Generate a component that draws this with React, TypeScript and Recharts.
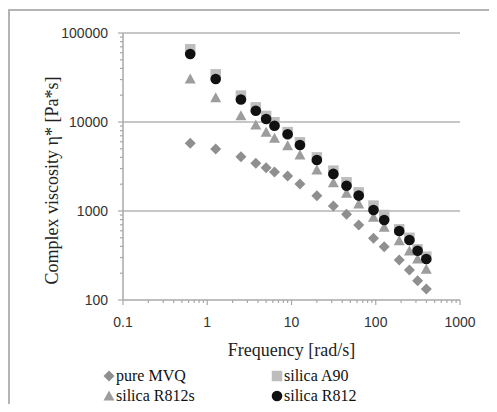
import React from 'react';
import {
  ScatterChart,
  Scatter,
  XAxis,
  YAxis,
  ReferenceLine,
  Legend,
} from 'recharts';

// angular frequency [rad/s]
const FREQ = [0.628, 1.26, 2.51, 3.77, 5.0, 6.28, 9.0, 12.6, 20, 31.4, 45, 62.8, 94, 126, 190, 251, 314, 398];

// complex viscosity [Pa*s]
const PURE_MVQ = [5770, 4970, 4075, 3435, 3065, 2740, 2470, 2010, 1485, 1140, 918, 697, 493, 397, 281, 217, 165, 133];
const SILICA_A90 = [65600, 34300, 19800, 14600, 11700, 9930, 7700, 5910, 4000, 2840, 2100, 1620, 1150, 902, 622, 500, 371, 307];
const SILICA_R812S = [30400, 18700, 11770, 9250, 7660, 6560, 5420, 4260, 2890, 2080, 1580, 1200, 849, 656, 464, 356, 289, 221];
const SILICA_R812 = [58100, 30400, 17900, 13400, 10800, 9090, 7280, 5520, 3740, 2610, 1920, 1490, 1025, 793, 596, 472, 358, 289];

const X_MAJOR = [0.1, 1, 10, 100, 1000];
const Y_MAJOR = [100, 1000, 10000, 100000];
const GRID_Y = [1000, 10000, 100000];

const AXIS = '#a8a8a8';
const GRID = '#b4b4b4';
const SERIF = '"Liberation Serif", "Times New Roman", serif';
const SANS = '"Liberation Sans", Arial, sans-serif';

// ticks at 1..9 of every decade, labels only on the decades
const withMinor = (major: number[]) => {
  const out: number[] = [];
  major.slice(0, -1).forEach((d) => {
    for (let m = 1; m < 10; m++) out.push(d * m);
  });
  out.push(major[major.length - 1]);
  return out;
};

type Kind = 'diamond' | 'square' | 'triangle' | 'circle';

const Marker = ({ kind, cx, cy, fill }: { kind: Kind; cx: number; cy: number; fill: string }) => {
  if (kind === 'diamond') {
    const r = 5.5;
    return <polygon points={`${cx},${cy - r} ${cx + r},${cy} ${cx},${cy + r} ${cx - r},${cy}`} fill={fill} />;
  }
  if (kind === 'square') {
    const s = 10.5;
    return <rect x={cx - s / 2} y={cy - s / 2} width={s} height={s} fill={fill} />;
  }
  if (kind === 'triangle') {
    return <polygon points={`${cx},${cy - 5.5} ${cx + 5.5},${cy + 4.5} ${cx - 5.5},${cy + 4.5}`} fill={fill} />;
  }
  return <circle cx={cx} cy={cy} r={5.3} fill={fill} />;
};

const SERIES: { name: string; values: number[]; kind: Kind; color: string }[] = [
  { name: 'pure MVQ', values: PURE_MVQ, kind: 'diamond', color: '#8f8f8f' },
  { name: 'silica A90', values: SILICA_A90, kind: 'square', color: '#bdbdbd' },
  { name: 'silica R812s', values: SILICA_R812S, kind: 'triangle', color: '#9d9d9d' },
  { name: 'silica R812', values: SILICA_R812, kind: 'circle', color: '#111111' },
];

const XTick = (props: any) => {
  const { x, y, payload } = props;
  const major = X_MAJOR.includes(payload.value);
  return (
    <g>
      <line x1={x} y1={y} x2={x} y2={y + (major ? 5 : 3)} stroke={AXIS} strokeWidth={1.2} />
      {major && (
        <text x={x} y={y + 27} textAnchor="middle" fontFamily={SANS} fontSize={14} fill="#333">
          {payload.value}
        </text>
      )}
    </g>
  );
};

const YTick = (props: any) => {
  const { x, y, payload } = props;
  const major = Y_MAJOR.includes(payload.value);
  return (
    <g>
      <line x1={x - (major ? 5 : 3)} y1={y} x2={x} y2={y} stroke={AXIS} strokeWidth={1.2} />
      {major && (
        <text x={x - 15} y={y + 5} textAnchor="end" fontFamily={SANS} fontSize={14} fill="#333">
          {payload.value}
        </text>
      )}
    </g>
  );
};

const renderLegend = () => (
  <div style={{ position: 'relative', width: 300, height: 40, fontFamily: SERIF, fontSize: 16, color: '#111' }}>
    {SERIES.map((s, i) => (
      <div
        key={s.name}
        style={{
          position: 'absolute',
          left: (i % 2) * 168,
          top: Math.floor(i / 2) * 20,
          height: 20,
          display: 'flex',
          alignItems: 'center',
          whiteSpace: 'nowrap',
        }}
      >
        <svg width={12} height={12} style={{ display: 'block' }}>
          <Marker kind={s.kind} cx={6} cy={6} fill={s.color} />
        </svg>
        <span style={{ marginLeft: 1 }}>{s.name}</span>
      </div>
    ))}
  </div>
);

export default function App() {
  return (
    <div style={{ position: 'relative', width: 489, height: 404, marginBottom: -8, overflow: 'hidden', background: '#fff' }}>
      <div
        style={{
          position: 'absolute',
          left: 0,
          top: 1,
          width: 520,
          height: 440,
          borderTop: `2px solid ${GRID}`,
          borderLeft: `2px solid ${GRID}`,
        }}
      />
      <ScatterChart width={489} height={404} margin={{ top: 25, right: 37, left: 0, bottom: 50 }}>
        <XAxis
          type="number"
          dataKey="x"
          scale="log"
          domain={[0.1, 1000]}
          ticks={withMinor(X_MAJOR)}
          interval={0}
          tickSize={0}
          tickMargin={0}
          tickLine={false}
          tick={<XTick />}
          height={62}
          axisLine={{ stroke: AXIS, strokeWidth: 1.5 }}
          label={{
            content: ({ viewBox }: any) => (
              <text
                x={viewBox.x + viewBox.width / 2}
                y={viewBox.y + 50}
                textAnchor="middle"
                dominantBaseline="central"
                fontFamily={SERIF}
                fontSize={18}
                fill="#222"
              >
                Frequency [rad/s]
              </text>
            ),
          }}
        />
        <YAxis
          type="number"
          dataKey="y"
          scale="log"
          domain={[100, 100000]}
          ticks={withMinor(Y_MAJOR)}
          interval={0}
          tickSize={0}
          tickMargin={0}
          tickLine={false}
          tick={<YTick />}
          width={115}
          axisLine={{ stroke: AXIS, strokeWidth: 1.5 }}
          label={{
            content: ({ viewBox }: any) => {
              const cx = 44;
              const cy = viewBox.y + viewBox.height / 2 + 14;
              return (
                <text
                  x={cx}
                  y={cy}
                  transform={`rotate(-90 ${cx} ${cy})`}
                  textAnchor="middle"
                  dominantBaseline="central"
                  fontFamily={SERIF}
                  fontSize={18}
                  fill="#222"
                >
                  Complex viscosity η* [Pa*s]
                </text>
              );
            },
          }}
        />
        {GRID_Y.map((v) => (
          <ReferenceLine key={v} y={v} stroke={GRID} strokeWidth={1.5} />
        ))}
        {SERIES.map((s) => (
          <Scatter
            key={s.name}
            name={s.name}
            data={FREQ.map((f, i) => ({ x: f, y: s.values[i] }))}
            fill={s.color}
            isAnimationActive={false}
            shape={(p: any) => <Marker kind={s.kind} cx={p.cx} cy={p.cy} fill={s.color} />}
          />
        ))}
        <Legend
          layout="vertical"
          align="center"
          verticalAlign="middle"
          content={renderLegend}
          wrapperStyle={{ left: 95, top: 358, width: 300, height: 40 }}
        />
      </ScatterChart>
    </div>
  );
}
